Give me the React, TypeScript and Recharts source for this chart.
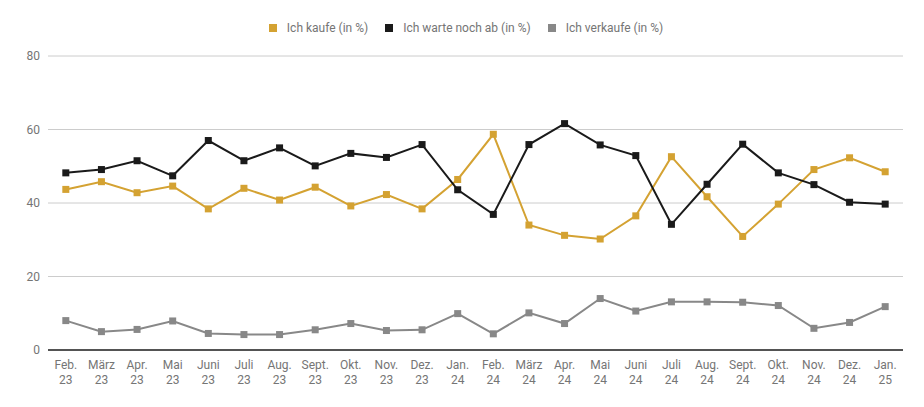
import React from "react";
import { LineChart, Line, XAxis, YAxis, CartesianGrid } from "recharts";

const months = ["Feb.", "März", "Apr.", "Mai", "Juni", "Juli", "Aug.", "Sept.", "Okt.", "Nov.", "Dez.", "Jan.", "Feb.", "März", "Apr.", "Mai", "Juni", "Juli", "Aug.", "Sept.", "Okt.", "Nov.", "Dez.", "Jan."];
const years = ["23", "23", "23", "23", "23", "23", "23", "23", "23", "23", "23", "24", "24", "24", "24", "24", "24", "24", "24", "24", "24", "24", "24", "25"];

const kaufe = [43.7, 45.8, 42.8, 44.6, 38.4, 44.0, 40.8, 44.3, 39.2, 42.3, 38.4, 46.4, 58.7, 34.0, 31.2, 30.2, 36.5, 52.6, 41.7, 30.9, 39.7, 49.1, 52.3, 48.5];
const warte = [48.2, 49.1, 51.5, 47.4, 57.0, 51.5, 55.0, 50.1, 53.5, 52.4, 55.9, 43.6, 36.9, 55.9, 61.6, 55.8, 52.9, 34.2, 45.1, 56.0, 48.2, 45.0, 40.2, 39.7];
const verkaufe = [8.0, 5.0, 5.6, 7.9, 4.5, 4.2, 4.2, 5.5, 7.2, 5.3, 5.5, 9.9, 4.4, 10.1, 7.2, 14.0, 10.6, 13.1, 13.1, 13.0, 12.1, 5.9, 7.5, 11.8];

const yTicks = [0, 20, 40, 60, 80];

const seriesInfo = [
  { key: "kaufe", name: "Ich kaufe (in %)", color: "#D4A232" },
  { key: "warte", name: "Ich warte noch ab (in %)", color: "#1A1A1A" },
  { key: "verkaufe", name: "Ich verkaufe (in %)", color: "#888888" },
];

const data = months.map((m, i) => ({
  label: i,
  kaufe: kaufe[i],
  warte: warte[i],
  verkaufe: verkaufe[i],
}));

const FONT = "Roboto, 'Noto Sans', sans-serif";
const TEXT = "#757575";

const XTick = (props: any) => {
  const { x, y, payload } = props;
  const i = payload.value as number;
  return (
    <text x={x} y={y} textAnchor="middle" fill={TEXT} fontSize={12} fontFamily={FONT}>
      <tspan x={x} dy={11}>{months[i]}</tspan>
      <tspan x={x} dy={15}>{years[i]}</tspan>
    </text>
  );
};

const SquareDot = (color: string) => (props: any) => {
  const { cx, cy, index } = props;
  if (cx == null || cy == null) return <g key={index} />;
  return <rect key={index} x={cx - 3.5} y={cy - 3.5} width={7} height={7} fill={color} />;
};

export default function App() {
  return (
    <div style={{ position: "relative", width: 916, height: 399, fontFamily: FONT }}>
      <div
        style={{
          position: "absolute",
          top: 12,
          left: 0,
          width: 916,
          display: "flex",
          justifyContent: "center",
          fontSize: 12,
          color: TEXT,
          lineHeight: "16px",
        }}
      >
        {seriesInfo.map((s, i) => (
          <div
            key={s.key}
            style={{ display: "flex", alignItems: "center", marginLeft: i === 0 ? 0 : 17 }}
          >
            <span style={{ display: "inline-block", width: 8, height: 8, background: s.color, marginRight: 10 }} />
            <span>{s.name}</span>
          </div>
        ))}
      </div>
      <LineChart width={916} height={399} data={data} margin={{ top: 48, right: 21, left: 0, bottom: 0 }}>
        <CartesianGrid vertical={false} stroke="#CCCCCC" strokeWidth={1} />
        <XAxis
          dataKey="label"
          scale="band"
          tick={<XTick />}
          tickLine={false}
          axisLine={{ stroke: "#222222", strokeWidth: 1.5 }}
          height={57}
          interval={0}
        />
        <YAxis
          domain={[0, 80]}
          ticks={yTicks}
          width={40}
          axisLine={false}
          tickLine={false}
          tick={{ fill: TEXT, fontSize: 12, fontFamily: FONT }}
        />
        {seriesInfo.map((s) => (
          <Line
            key={s.key}
            type="linear"
            dataKey={s.key}
            name={s.name}
            stroke={s.color}
            strokeWidth={2}
            dot={SquareDot(s.color)}
            activeDot={false}
            isAnimationActive={false}
          />
        ))}
      </LineChart>
    </div>
  );
}
